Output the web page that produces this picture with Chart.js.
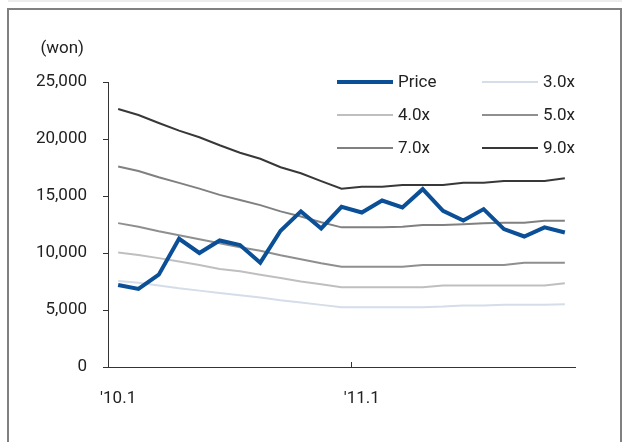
<!DOCTYPE html>
<html>
<head>
<meta charset="utf-8">
<script src="https://cdn.jsdelivr.net/npm/chart.js@4.4.0/dist/chart.umd.min.js"></script>
<style>
    body { margin: 0; background: #fff; }
    #wrap { position: relative; width: 625px; height: 442px; overflow: hidden; }
    #topline { position: absolute; left: 8px; top: 0; width: 614px; height: 2px; background: #ececec; }
    #frame { position: absolute; left: 7px; top: 8px; width: 611px; height: 460px; border: 2px solid #808080; border-bottom: none; pointer-events: none; }
    canvas { position: absolute; left: 0; top: 0; }
</style>
</head>
<body>
<div id="wrap">
    <div id="topline"></div>
    <canvas id="chart" width="625" height="442"></canvas>
    <div id="frame"></div>
</div>
<script>
// months '10.1 .. '11.11
const months = ["'10.1", "'10.2", "'10.3", "'10.4", "'10.5", "'10.6", "'10.7", "'10.8", "'10.9", "'10.10", "'10.11", "'10.12",
    "'11.1", "'11.2", "'11.3", "'11.4", "'11.5", "'11.6", "'11.7", "'11.8", "'11.9", "'11.10", "'11.11"];

const price = [7200, 6850, 8100, 11250, 10000, 11100, 10700, 9150, 11950, 13650, 12150, 14050,
    13550, 14600, 14000, 15600, 13700, 12850, 13850, 12100, 11450, 12250, 11800];
const pbr3 = [7550, 7400, 7150, 6900, 6700, 6500, 6300, 6100, 5850, 5650, 5450, 5250,
    5250, 5250, 5250, 5250, 5300, 5400, 5400, 5450, 5450, 5450, 5500];
const pbr4 = [10050, 9830, 9550, 9250, 8950, 8600, 8400, 8100, 7800, 7500, 7250, 7000,
    7000, 7000, 7000, 7000, 7150, 7150, 7150, 7150, 7150, 7150, 7350];
const pbr5 = [12620, 12300, 11900, 11550, 11200, 10850, 10500, 10200, 9800, 9450, 9100, 8800,
    8800, 8800, 8800, 8950, 8950, 8950, 8950, 8950, 9150, 9150, 9150];
const pbr7 = [17580, 17200, 16650, 16150, 15650, 15100, 14650, 14200, 13650, 13200, 12700, 12250,
    12250, 12250, 12300, 12450, 12450, 12520, 12600, 12660, 12660, 12830, 12830];
const pbr9 = [22630, 22100, 21400, 20730, 20150, 19450, 18800, 18270, 17520, 16990, 16300, 15640,
    15820, 15820, 15970, 15970, 15970, 16170, 16170, 16320, 16320, 16320, 16550];

const yTicks = [0, 5000, 10000, 15000, 20000, 25000];
const xShown = [0, 12];

const FONT = { family: 'Roboto', size: 17 };

// (won) unit label and legend drawn in the plot corner
const extras = {
    id: 'extras',
    afterDraw(chart) {
        const ctx = chart.ctx;
        ctx.save();
        ctx.font = '17px Roboto';
        ctx.fillStyle = '#222';
        ctx.textAlign = 'right';
        ctx.textBaseline = 'middle';
        ctx.fillText('(won)', 84, 49);

        ctx.textAlign = 'left';
        const cols = [337, 482];
        const rows = [82, 115, 148];
        chart.data.datasets.forEach((ds, i) => {
            const x = cols[i % 2];
            const y = rows[Math.floor(i / 2)];
            ctx.strokeStyle = ds.borderColor;
            ctx.lineWidth = ds.borderWidth;
            ctx.beginPath();
            ctx.moveTo(x, y);
            ctx.lineTo(x + 56, y);
            ctx.stroke();
            ctx.fillStyle = '#222';
            ctx.fillText(ds.label, x + 61, y + 1);
        });
        ctx.restore();
    }
};

new Chart(document.getElementById('chart'), {
    type: 'line',
    data: {
        labels: months,
        datasets: [
            { label: 'Price', data: price, borderColor: '#0b4f97', borderWidth: 4 },
            { label: '3.0x', data: pbr3, borderColor: '#d4dde8', borderWidth: 2 },
            { label: '4.0x', data: pbr4, borderColor: '#bfbfbf', borderWidth: 2 },
            { label: '5.0x', data: pbr5, borderColor: '#8f8f8f', borderWidth: 2 },
            { label: '7.0x', data: pbr7, borderColor: '#808080', borderWidth: 2 },
            { label: '9.0x', data: pbr9, borderColor: '#383838', borderWidth: 2 }
        ]
    },
    options: {
        responsive: false,
        animation: false,
        elements: { point: { radius: 0 }, line: { tension: 0, borderJoinStyle: 'miter' } },
        layout: { padding: { left: 0, top: 82, right: 50, bottom: 0 } },
        plugins: { legend: { display: false }, tooltip: { enabled: false } },
        scales: {
            x: {
                type: 'category',
                offset: true,
                grid: {
                    offset: true,
                    drawOnChartArea: false,
                    tickLength: -5,
                    color: (c) => c.index === 12 ? '#333' : 'rgba(0,0,0,0)'
                },
                border: { color: '#333', width: 1 },
                ticks: {
                    autoSkip: false,
                    maxRotation: 0,
                    padding: 27,
                    color: '#222',
                    font: FONT,
                    callback: function (v, i) {
                        return xShown.includes(i) ? this.getLabelForValue(v) : '';
                    }
                },
                afterFit: (s) => { s.height = 75; }
            },
            y: {
                min: 0,
                max: 25000,
                afterBuildTicks: (s) => { s.ticks = yTicks.map(v => ({ value: v })); },
                grid: { drawOnChartArea: false, tickLength: 5, color: '#333' },
                border: { color: '#333', width: 1 },
                ticks: {
                    padding: 16,
                    color: '#222',
                    font: FONT,
                    callback: (v) => v.toLocaleString('en-US')
                },
                afterFit: (s) => { s.width = 108; }
            }
        }
    },
    plugins: [extras]
});
</script>
</body>
</html>
